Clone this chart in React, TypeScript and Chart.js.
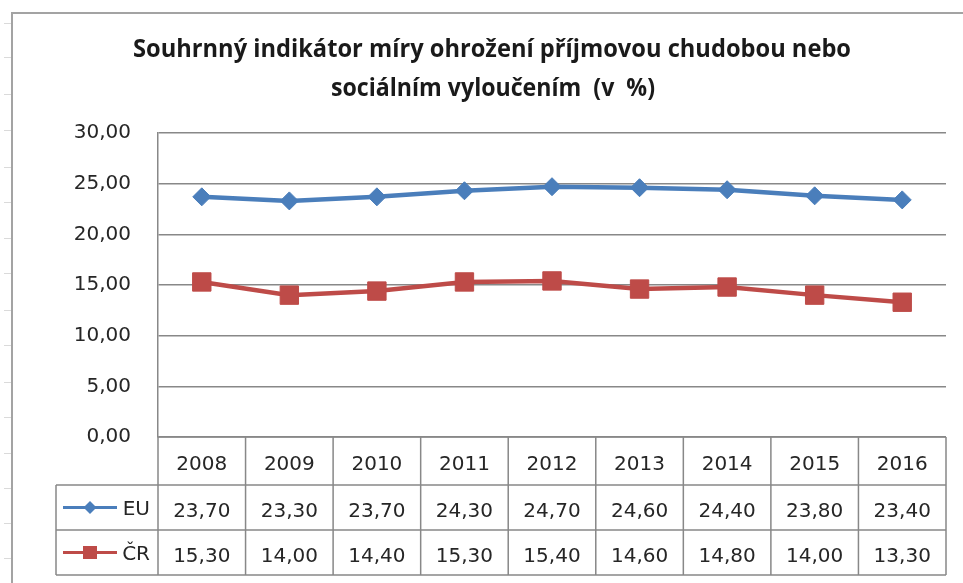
import React, { useEffect, useRef } from "react";
import { Chart, registerables } from "chart.js";

Chart.register(...registerables);

// ---- data ----
const years = ["2008", "2009", "2010", "2011", "2012", "2013", "2014", "2015", "2016"];
const euValues = [23.7, 23.3, 23.7, 24.3, 24.7, 24.6, 24.4, 23.8, 23.4];
const crValues = [15.3, 14.0, 14.4, 15.3, 15.4, 14.6, 14.8, 14.0, 13.3];
const seriesNames = ["EU", "ČR"];
const titleLines = [
  "Souhrnný indikátor míry ohrožení příjmovou chudobou nebo",
  "sociálním vyloučením  (v  %)",
];
const yMin = 0;
const yMax = 30;
const yStep = 5;

// ---- styles ----
const EU_COLOR = "#4A7EBB";
const CR_COLOR = "#BE4B48";
const GRID_COLOR = "#888888";
const TEXT_COLOR = "#262626";
const NUM_FONT = '"DejaVu Sans", sans-serif';

const fmt = (v: number) => v.toFixed(2).replace(".", ",");

function fittedText(ctx: CanvasRenderingContext2D, text: string, cx: number, baseline: number, targetW: number) {
  const w = ctx.measureText(text).width;
  const s = targetW / w;
  ctx.save();
  ctx.translate(cx, baseline);
  ctx.scale(s, 1);
  ctx.textAlign = "center";
  ctx.textBaseline = "alphabetic";
  ctx.fillText(text, 0, 0);
  ctx.restore();
}

const decorPlugin = {
  id: "decor",
  beforeDraw(chart: any) {
    const ctx: CanvasRenderingContext2D = chart.ctx;
    ctx.save();
    ctx.fillStyle = "#ffffff";
    ctx.fillRect(0, 0, chart.width, chart.height);
    ctx.strokeStyle = "#dadada";
    ctx.lineWidth = 1;
    const marks = [23, 57, 94, 130, 167, 202, 238, 273, 310, 345, 382, 417, 453, 488, 523, 558];
    for (const m of marks) {
      ctx.beginPath();
      ctx.moveTo(4, m + 0.5);
      ctx.lineTo(11, m + 0.5);
      ctx.stroke();
    }
    ctx.strokeStyle = "#a3a3a3";
    ctx.lineWidth = 2;
    ctx.beginPath();
    ctx.moveTo(12, chart.height + 2);
    ctx.lineTo(12, 13);
    ctx.lineTo(chart.width + 2, 13);
    ctx.stroke();
    ctx.fillStyle = "#1a1a1a";
    ctx.font = 'bold 25px "Liberation Sans Narrow", "Open Sans", sans-serif';
    fittedText(ctx, titleLines[0], 492, 57, 718);
    fittedText(ctx, titleLines[1], 493, 96, 324);
    ctx.restore();
  },
  afterDraw(chart: any) {
    const ctx: CanvasRenderingContext2D = chart.ctx;
    const area = chart.chartArea;
    const xs = chart.scales.x;
    const n = years.length;
    const colW = (area.right - area.left) / n;
    const top = area.bottom;
    const r1 = top + 48;
    const r2 = top + 93;
    const r3 = top + 138;
    const legendLeft = 56;

    ctx.save();
    ctx.strokeStyle = GRID_COLOR;
    ctx.lineWidth = 1.5;
    ctx.beginPath();
    ctx.moveTo(area.left, top);
    ctx.lineTo(area.right, top);
    for (const y of [r1, r2, r3]) {
      ctx.moveTo(legendLeft, y);
      ctx.lineTo(area.right, y);
    }
    for (let i = 0; i <= n; i++) {
      const x = area.left + i * colW;
      ctx.moveTo(x, top);
      ctx.lineTo(x, r3);
    }
    ctx.moveTo(legendLeft, r1);
    ctx.lineTo(legendLeft, r3);
    ctx.stroke();

    ctx.fillStyle = TEXT_COLOR;
    ctx.font = `20px ${NUM_FONT}`;
    ctx.textAlign = "center";
    ctx.textBaseline = "alphabetic";
    const rows = [euValues, crValues];
    const baselines = [r1 - 15, r2 - 13, r3 - 13];
    for (let i = 0; i < n; i++) {
      const cx = xs.getPixelForValue(i);
      ctx.fillText(years[i], cx, baselines[0]);
      ctx.fillText(fmt(rows[0][i]), cx, baselines[1]);
      ctx.fillText(fmt(rows[1][i]), cx, baselines[2]);
    }

    const colors = [EU_COLOR, CR_COLOR];
    for (let s = 0; s < 2; s++) {
      const cy = s === 0 ? (r1 + r2) / 2 : (r2 + r3) / 2;
      ctx.strokeStyle = colors[s];
      ctx.fillStyle = colors[s];
      ctx.lineWidth = 3;
      ctx.beginPath();
      ctx.moveTo(63, cy);
      ctx.lineTo(117, cy);
      ctx.stroke();
      ctx.beginPath();
      if (s === 0) {
        const r = 6.5;
        ctx.moveTo(90, cy - r);
        ctx.lineTo(90 + r, cy);
        ctx.lineTo(90, cy + r);
        ctx.lineTo(90 - r, cy);
        ctx.closePath();
      } else {
        ctx.rect(83, cy - 6.5, 14, 13);
      }
      ctx.fill();
      ctx.fillStyle = TEXT_COLOR;
      ctx.textAlign = "right";
      ctx.fillText(seriesNames[s], 150, cy + 7.5);
    }
    ctx.restore();
  },
};

export default function App() {
  const canvasRef = useRef<HTMLCanvasElement | null>(null);

  useEffect(() => {
    const canvas = canvasRef.current;
    if (!canvas) return;
    const chart = new Chart(canvas, {
      type: "line",
      data: {
        labels: years,
        datasets: [
          {
            label: seriesNames[0],
            data: euValues,
            borderColor: EU_COLOR,
            backgroundColor: EU_COLOR,
            borderWidth: 4.5,
            pointStyle: "rectRot",
            pointRadius: 9,
            pointBorderWidth: 1,
            pointBackgroundColor: EU_COLOR,
            pointBorderColor: EU_COLOR,
            tension: 0,
          },
          {
            label: seriesNames[1],
            data: crValues,
            borderColor: CR_COLOR,
            backgroundColor: CR_COLOR,
            borderWidth: 4.5,
            pointStyle: "rect",
            pointRadius: 13,
            pointBorderWidth: 1,
            pointBackgroundColor: CR_COLOR,
            pointBorderColor: CR_COLOR,
            tension: 0,
          },
        ],
      },
      options: {
        responsive: false,
        animation: false,
        devicePixelRatio: 1,
        layout: { padding: { left: 0, right: 17, top: 133, bottom: 146 } },
        plugins: {
          legend: { display: false },
          title: { display: false },
          tooltip: { enabled: false },
        },
        scales: {
          x: {
            type: "category",
            offset: true,
            display: false,
            grid: { display: false },
          },
          y: {
            min: yMin,
            max: yMax,
            afterFit: (scale: any) => {
              scale.width = 158;
            },
            ticks: {
              stepSize: yStep,
              padding: 27,
              color: TEXT_COLOR,
              font: { family: NUM_FONT, size: 20 },
              callback: (v: any) => fmt(Number(v)),
            },
            grid: {
              color: GRID_COLOR,
              lineWidth: 1.5,
              drawTicks: false,
            },
            border: { display: true, color: GRID_COLOR, width: 1.5 },
          },
        },
      },
      plugins: [decorPlugin],
    } as any);
    return () => chart.destroy();
  }, []);

  return (
    <div style={{ position: "fixed", left: 0, top: 0, width: 963, height: 583, background: "#fff" }}>
      <canvas ref={canvasRef} width={963} height={583} style={{ display: "block", width: 963, height: 583 }} />
    </div>
  );
}
